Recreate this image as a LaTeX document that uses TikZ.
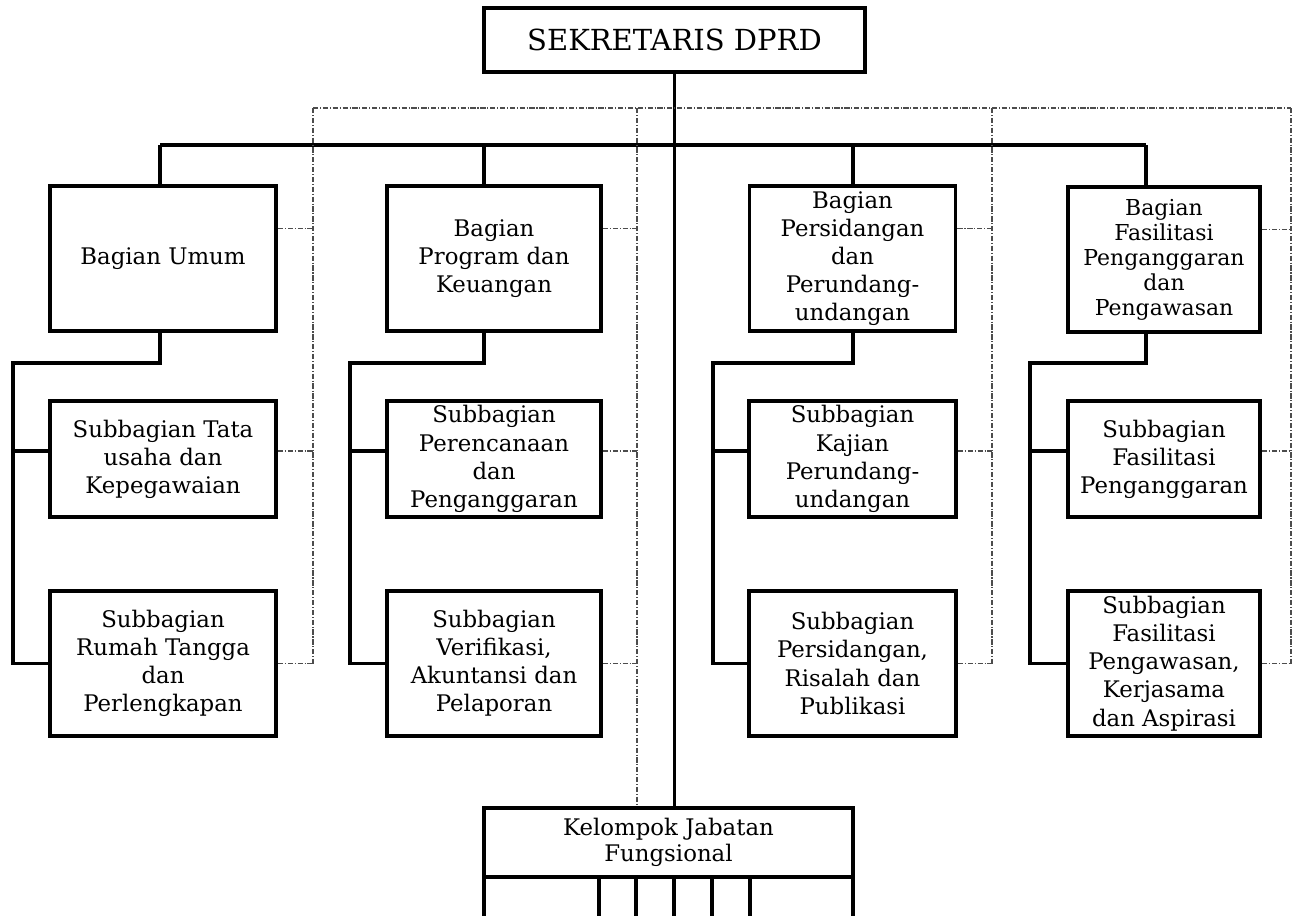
\documentclass[tikz,border=0pt]{standalone}
\usepackage{fontspec}
\setmainfont{DejaVu Serif}
\usepackage{tikz}
\usetikzlibrary{positioning}

\tikzset{
  unit/.style={draw, line width=2.2pt, align=center, inner sep=0pt,
    font=\fontsize{13}{16}\selectfont},
  conn/.style={line width=2pt},
  staff/.style={line width=0.6pt, black!70,
    dash pattern=on 3pt off 1pt on 0.6pt off 1pt},
}

\begin{document}
\begin{tikzpicture}[x=0.02cm,y=-0.02cm]
\useasboundingbox (0,0) rectangle (1299,916);

% Pimpinan
\node[unit, line width=2pt, minimum width=7.62cm, minimum height=1.28cm,
  font=\fontsize{16.5}{20}\selectfont] (sek) at (674.5,40) {SEKRETARIS DPRD};

% Bagian
\node[unit, minimum width=4.52cm, minimum height=2.9cm] (b1) at (163,258.5) {Bagian Umum};
\node[unit, minimum width=4.28cm, minimum height=2.9cm] (b2) at (494,258.5) {Bagian\\Program dan\\Keuangan};
\node[unit, minimum width=4.12cm, minimum height=2.9cm] (b3) at (852.5,258.5) {Bagian\\Persidangan\\dan\\Perundang-\\undangan};
\node[unit, minimum width=3.84cm, minimum height=2.9cm,
  font=\fontsize{12.5}{14.2}\selectfont] (b4) at (1164,259.5) {Bagian\\Fasilitasi\\Penganggaran\\dan\\Pengawasan};

% Subbagian, baris pertama
\node[unit, minimum width=4.52cm, minimum height=2.32cm] (p1) at (163,459) {Subbagian Tata\\usaha dan\\Kepegawaian};
\node[unit, minimum width=4.28cm, minimum height=2.32cm] (p2) at (494,459) {Subbagian\\Perencanaan\\dan\\Penganggaran};
\node[unit, minimum width=4.14cm, minimum height=2.32cm] (p3) at (852.5,459) {Subbagian\\Kajian\\Perundang-\\undangan};
\node[unit, minimum width=3.84cm, minimum height=2.32cm] (p4) at (1164,459) {Subbagian\\Fasilitasi\\Penganggaran};

% Subbagian, baris kedua
\node[unit, minimum width=4.52cm, minimum height=2.9cm] (q1) at (163,663.5) {Subbagian\\Rumah Tangga\\dan\\Perlengkapan};
\node[unit, minimum width=4.28cm, minimum height=2.9cm] (q2) at (494,663.5) {Subbagian\\Verifikasi,\\Akuntansi dan\\Pelaporan};
\node[unit, minimum width=4.14cm, minimum height=2.9cm] (q3) at (852.5,663.5) {Subbagian\\Persidangan,\\Risalah dan\\Publikasi};
\node[unit, minimum width=3.84cm, minimum height=2.9cm] (q4) at (1164,663.5) {Subbagian\\Fasilitasi\\Pengawasan,\\Kerjasama\\dan Aspirasi};

% Jabatan fungsional
\node[unit, minimum width=7.38cm, minimum height=1.38cm,
  font=\fontsize{13}{15}\selectfont] (kjf) at (668.5,842.5) {Kelompok Jabatan\\Fungsional};

% Garis komando
\coordinate (d1) at (160,145);
\coordinate (d2) at (484,145);
\coordinate (d3) at (853,145);
\coordinate (d4) at (1146,145);
\coordinate (s1) at (13,363);
\coordinate (s2) at (350,363);
\coordinate (s3) at (713,363);
\coordinate (s4) at (1030,363);

\draw[conn] (sek.south) -- (sek.south |- kjf.north);
\draw[conn] (d1) -- (d4);
\foreach \i in {1,...,4} {
  \coordinate (pw\i) at ([yshift=0.16cm]p\i.west);
  \draw[conn] (d\i) -- (d\i |- b\i.north);
  \draw[conn] (b\i.south -| d\i) |- (s\i) -- (s\i |- q\i.west) -- (q\i.west);
  \draw[conn] (s\i |- pw\i) -- (pw\i);
}
\foreach \x in {484,599,636,674,712,750,853}
  \draw[conn] (kjf.south -| \x,0) -- (\x,916);

% Garis koordinasi
\coordinate (g1) at (313,108);
\coordinate (g2) at (637,108);
\coordinate (g3) at (992,108);
\coordinate (g4) at (1291,108);
\draw[staff] (g1) -- (g4);
\foreach \i in {1,3,4}
  \draw[staff] (g\i) -- (g\i |- q1.east);
\draw[staff] (g2) -- (g2 |- kjf.north);
\foreach \i in {1,...,4} {
  \coordinate (be\i) at ([yshift=0.6cm]b\i.east);
  \coordinate (pe\i) at ([yshift=0.16cm]p\i.east);
  \draw[staff] (be\i) -- (be\i -| g\i);
  \draw[staff] (pe\i) -- (pe\i -| g\i);
  \draw[staff] (q\i.east) -- (q\i.east -| g\i);
}
\end{tikzpicture}
\end{document}
